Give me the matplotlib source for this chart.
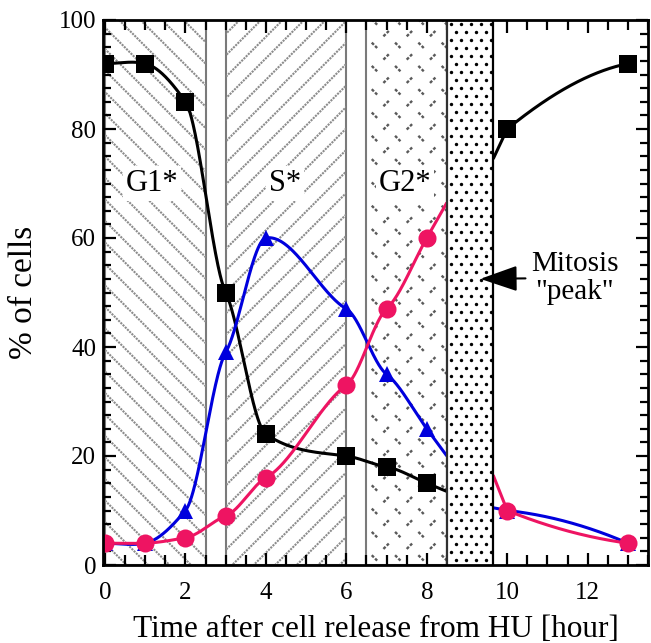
import numpy as np
import matplotlib
matplotlib.use("Agg")
import matplotlib.pyplot as plt
from matplotlib.patches import Rectangle
from matplotlib.collections import LineCollection
from matplotlib.ticker import MultipleLocator

plt.rcParams['font.family'] = ['Liberation Serif', 'DejaVu Serif']

# ---- data ----
hours_before = [0, 1, 2, 3, 4, 6, 7, 8]
hours_after = [10, 13]
g1_before = [92, 92, 85, 50, 24, 20, 18, 15]      # black squares
s_before = [4, 4, 10, 39, 60, 47, 35, 25]         # blue triangles
g2m_before = [4, 4, 5, 9, 16, 33, 47, 60]         # pink circles
g1_after = [80, 92]
s_after = [10, 4]
g2m_after = [10, 4]
# curve values where the curves emerge from the mitosis band (right edge)
g1_edge, s_edge, g2m_edge = 74.5, 10.5, 16.5
# curve slopes at hours 10 and 13 (shape of the post-mitosis curves)
g1_slopes, s_slopes, g2m_slopes = (6.0, 1.5), (-0.8, -3.2), (-3.0, -1.0)

phase_names = ['G1*', 'S*', 'G2*']
phase_start = [0, 3, 6.5]
phase_end = [2.5, 6, 8.5]
phase_label_x = [1.17, 4.48, 7.46]
mitosis_band = (8.5, 9.65)

xlim = (-0.05, 13.5)
ylim = (0, 100)


def hermite(x0, x1, y0, y1, m0, m1, xs):
    h = x1 - x0
    t = (xs - x0) / h
    return ((1 - 3 * t ** 2 + 2 * t ** 3) * y0 + (t - 2 * t ** 2 + t ** 3) * h * m0
            + (3 * t ** 2 - 2 * t ** 3) * y1 + (t ** 3 - t ** 2) * h * m1)


def cardinal(x, y, tension=0.5, step=0.01):
    x = np.asarray(x, float)
    y = np.asarray(y, float)
    n = len(x)
    m = np.zeros(n)
    m[0] = (y[1] - y[0]) / (x[1] - x[0])
    m[-1] = (y[-1] - y[-2]) / (x[-1] - x[-2])
    for i in range(1, n - 1):
        m[i] = (1 - tension) * (y[i + 1] - y[i - 1]) / (x[i + 1] - x[i - 1])
    xs_all, ys_all = [], []
    for i in range(n - 1):
        xs = np.linspace(x[i], x[i + 1], max(int((x[i + 1] - x[i]) / step), 2))
        xs_all.append(xs)
        ys_all.append(hermite(x[i], x[i + 1], y[i], y[i + 1], m[i], m[i + 1], xs))
    return np.concatenate(xs_all), np.concatenate(ys_all)


W, H = 651, 643
fig = plt.figure(figsize=(W / 100, H / 100), dpi=100)
ax_left, ax_right, ax_bottom, ax_top = 103 / W, 648 / W, 1 - 565 / H, 1 - 20 / H
ax = fig.add_axes([ax_left, ax_bottom, ax_right - ax_left, ax_top - ax_bottom])
ax.set_xlim(*xlim)
ax.set_ylim(*ylim)

px_x = (ax_right - ax_left) * W / (xlim[1] - xlim[0])   # pixels per x unit
px_y = (ax_top - ax_bottom) * H / (ylim[1] - ylim[0])   # pixels per y unit
height_px = (ylim[1] - ylim[0]) * px_y

# phase regions with hatching
directions = [1, -1, 0]
for s, e, d in zip(phase_start, phase_end, directions):
    rect = Rectangle((s, 0), e - s, 100, facecolor='white',
                     edgecolor='#7a7a7a', lw=1.5, zorder=1)
    ax.add_patch(rect)
    segs = []
    width_px = (e - s) * px_x
    if d != 0:
        spacing = 21.5
        c = -height_px
        while c < width_px + height_px:
            u0, v0 = c, 0.0
            u1, v1 = c + d * height_px, height_px
            segs.append([(s + u0 / px_x, 100 - v0 / px_y), (s + u1 / px_x, 100 - v1 / px_y)])
            c += spacing
        lc = LineCollection(segs, colors='#8c8c8c', linewidths=1.5,
                            linestyles=(0, (1.0, 0.5)), zorder=1.5)
    else:
        period = 23.3
        half = 2.7
        j = 0
        yy = 2.0
        while yy < height_px:
            xx = 8 + (period / 2) * (j % 2)
            while xx < width_px - 2:
                if j % 2 == 0:
                    p0, p1 = (xx - half, yy - half), (xx + half, yy + half)
                else:
                    p0, p1 = (xx - half, yy + half), (xx + half, yy - half)
                segs.append([(s + p0[0] / px_x, 100 - p0[1] / px_y),
                             (s + p1[0] / px_x, 100 - p1[1] / px_y)])
                xx += period
            yy += period / 2
            j += 1
        lc = LineCollection(segs, colors='#5a5a5a', linewidths=1.7,
                            linestyles=(0, (1.3, 0.7)), zorder=1.5)
    ax.add_collection(lc, autolim=False)
    lc.set_clip_path(rect)

# curves
m0, m1 = mitosis_band
series = [
    (g1_before, g1_after, g1_edge, g1_slopes, 'black', 's', 13),
    (s_before, s_after, s_edge, s_slopes, '#0000dd', '^', 12),
    (g2m_before, g2m_after, g2m_edge, g2m_slopes, '#ee1462', 'o', 13),
]
for k, (vb, va, edge, slopes, col, mk, ms) in enumerate(series):
    xs, ys = cardinal(hours_before, vb)
    end_slope = (vb[-1] - vb[-2]) / (hours_before[-1] - hours_before[-2])
    xs = np.append(xs, m0)
    ys = np.append(ys, vb[-1] + end_slope * (m0 - hours_before[-1]))
    ax.plot(xs, ys, color=col, lw=2.2, zorder=3 + k, solid_capstyle='butt')
    xr = np.linspace(hours_after[0], hours_after[1], 200)
    yr = hermite(hours_after[0], hours_after[1], va[0], va[1], slopes[0], slopes[1], xr)
    xr = np.concatenate([[m1], xr])
    yr = np.concatenate([[edge], yr])
    ax.plot(xr, yr, color=col, lw=2.2, zorder=3 + k, solid_capstyle='butt')
    ax.plot(hours_before + hours_after, vb + va, linestyle='none', marker=mk, ms=ms,
            color=col, markeredgewidth=0, zorder=6 + k)

# mitosis band
ax.add_patch(Rectangle((m0, 0), m1 - m0, 100, facecolor='white',
                       edgecolor='none', zorder=9))
dx_px, dy_px = 10.0, 8.0
dots_x, dots_y = [], []
row = 0
yy = 4.0
while yy < height_px:
    xx = 4.0 + (dx_px / 2) * (row % 2)
    while xx < (m1 - m0) * px_x - 2:
        dots_x.append(m0 + xx / px_x)
        dots_y.append(100 - yy / px_y)
        xx += dx_px
    yy += dy_px
    row += 1
ax.scatter(dots_x, dots_y, s=6, color='black', linewidths=0, zorder=10)
ax.axvline(m0, color='#303030', lw=1.6, zorder=11)
ax.axvline(m1, color='black', lw=1.6, zorder=11)

# phase labels
for name, lx in zip(phase_names, phase_label_x):
    ax.text(lx, 70.0, name, fontsize=22, ha='center', va='center', zorder=12,
            bbox=dict(boxstyle='square,pad=0.1', facecolor='white', edgecolor='none'))

ax.annotate('Mitosis\n"peak"', xy=(9.33, 52.5), xytext=(11.68, 52.6),
            fontsize=21, ha='center', va='center', linespacing=1.1, zorder=12,
            arrowprops=dict(arrowstyle='-|>,head_length=1.1,head_width=0.38',
                            color='black', lw=1.5, shrinkA=2, shrinkB=0,
                            relpos=(0.0, 0.5)))

# axes styling
ax.xaxis.set_major_locator(MultipleLocator(2))
ax.xaxis.set_minor_locator(MultipleLocator(0.5))
ax.yaxis.set_major_locator(MultipleLocator(20))
ax.yaxis.set_minor_locator(MultipleLocator(2.5))
ax.tick_params(which='both', direction='in', top=True, right=True, width=1.6,
               labelsize=18, zorder=20)
ax.tick_params(axis='x', which='major', length=9, pad=12)
ax.tick_params(axis='x', which='minor', length=7)
ax.tick_params(axis='y', which='major', length=9, pad=5)
ax.tick_params(axis='y', which='minor', length=6)
for sp in ax.spines.values():
    sp.set_linewidth(2.0)
    sp.set_zorder(20)

ax.set_xlabel('Time after cell release from HU [hour]', fontsize=22.5, labelpad=8)
ax.set_ylabel('% of cells', fontsize=24, labelpad=14)

fig.savefig('out.png', dpi=100)
